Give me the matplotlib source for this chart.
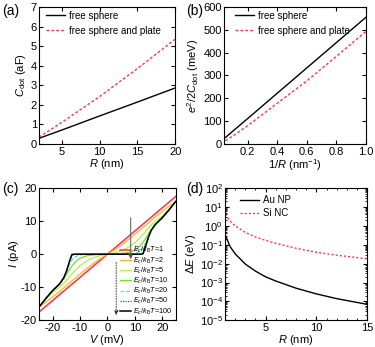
import numpy as np
import matplotlib
matplotlib.use('Agg')
import matplotlib.pyplot as plt
from matplotlib.ticker import MultipleLocator, LogLocator

plt.rcParams['font.family'] = ['Liberation Sans', 'DejaVu Sans']
plt.rcParams['mathtext.fontset'] = 'custom'
plt.rcParams['mathtext.rm'] = 'Liberation Sans'
plt.rcParams['mathtext.it'] = 'Liberation Sans:italic'
plt.rcParams['font.size'] = 8
plt.rcParams['axes.unicode_minus'] = False
plt.rcParams['xtick.direction'] = 'in'
plt.rcParams['ytick.direction'] = 'in'
plt.rcParams['xtick.top'] = True
plt.rcParams['ytick.right'] = True
plt.rcParams['xtick.major.size'] = 3
plt.rcParams['ytick.major.size'] = 3
plt.rcParams['xtick.minor.size'] = 1.5
plt.rcParams['ytick.minor.size'] = 1.5
plt.rcParams['xtick.major.pad'] = 2
plt.rcParams['ytick.major.pad'] = 1.5
plt.rcParams['axes.linewidth'] = 0.8

RED = '#ff3358'

# (a) capacitance vs radius
R_a = [2, 5, 10, 15, 20]
C_free = [0.29, 0.71, 1.43, 2.14, 2.86]
C_plate = [0.35, 1.1, 2.42, 3.85, 5.35]

# (b) charging energy vs 1/R
invR_b = [0.05, 0.1, 0.2, 0.4, 0.6, 0.8, 1.0]
E_free = [28, 56, 111, 222, 333, 444, 555]
E_plate = [14, 35, 80, 178, 276, 384, 493]

# (c) I-V curves
V_c = [-25, -22.5, -20, -17.5, -16, -15, -14, -13, -12, -11, -10, -7.5, -5, -2.5, 0,
       2.5, 5, 7.5, 10, 11, 12, 13, 14, 15, 16, 17.5, 20, 22.5, 25]
I_1 = [-17.5, -15.75, -14.0, -12.25, -11.2, -10.5, -9.8, -9.1, -8.4, -7.7, -7.0, -5.25, -3.5, -1.75, 0,
       1.75, 3.5, 5.25, 7.0, 7.7, 8.4, 9.1, 9.8, 10.5, 11.2, 12.25, 14.0, 15.75, 17.5]
I_2 = [-16.0, -14.5, -12.9, -11.3, -10.2, -9.5, -8.8, -8.1, -7.4, -6.7, -6.0, -4.3, -2.7, -1.3, 0,
       1.3, 2.7, 4.3, 6.0, 6.7, 7.4, 8.1, 8.8, 9.5, 10.2, 11.3, 12.9, 14.5, 16.0]
I_5 = [-16.0, -13.6, -11.5, -10.0, -8.8, -7.9, -7.0, -6.0, -5.1, -4.3, -3.5, -2.0, -1.0, -0.4, 0,
       0.4, 1.0, 2.0, 3.5, 4.3, 5.1, 6.0, 7.0, 7.9, 8.8, 10.0, 11.5, 13.6, 16.0]
I_10 = [-16.0, -13.4, -11.0, -9.1, -7.5, -6.2, -4.8, -3.6, -2.6, -1.8, -1.2, -0.5, -0.2, -0.05, 0,
        0.05, 0.2, 0.5, 1.2, 1.8, 2.6, 3.6, 4.8, 6.2, 7.5, 9.1, 11.0, 13.4, 16.0]
I_20 = [-16.0, -13.4, -11.0, -9.0, -7.3, -5.5, -3.5, -1.8, -0.9, -0.5, -0.2, -0.05, 0, 0, 0,
        0, 0, 0.05, 0.2, 0.5, 0.9, 1.8, 3.5, 5.5, 7.3, 9.0, 11.0, 13.4, 16.0]
I_50 = [-16.0, -13.4, -11.0, -9.0, -7.2, -5.2, -2.6, -0.4, -0.05, 0, 0, 0, 0, 0, 0,
        0, 0, 0, 0, 0, 0.05, 0.4, 2.6, 5.2, 7.2, 9.0, 11.0, 13.4, 16.0]
I_100 = [-16.0, -13.4, -11.0, -9.0, -7.2, -5.2, -2.5, -0.1, 0, 0, 0, 0, 0, 0, 0,
         0, 0, 0, 0, 0, 0, 0.1, 2.5, 5.2, 7.2, 9.0, 11.0, 13.4, 16.0]
ratios = [1, 2, 5, 10, 20, 50, 100]

# (d) level spacing vs radius
R_d = [1, 1.5, 2, 3, 4, 5, 6, 8, 10, 12, 15]
dE_au = [0.35, 0.08, 0.033, 0.0095, 0.004, 0.002, 0.0012, 0.0005, 0.00025, 0.00014, 0.00007]
dE_si = [4.0, 1.8, 1.0, 0.45, 0.26, 0.17, 0.12, 0.065, 0.04, 0.028, 0.018]

fig = plt.figure(figsize=(3.75, 3.47), dpi=100)
ax_a = fig.add_axes([0.104, 0.585, 0.363, 0.395])
ax_b = fig.add_axes([0.597, 0.585, 0.379, 0.395])
ax_c = fig.add_axes([0.104, 0.077, 0.365, 0.381])
ax_d = fig.add_axes([0.600, 0.077, 0.379, 0.381])

leg_kw = dict(frameon=False, fontsize=7, handlelength=2.0, borderaxespad=0,
              labelspacing=0.5, handletextpad=0.4)

# (a)
ax_a.plot(R_a, C_free, color='black', lw=1.0, label='free sphere')
ax_a.plot(R_a, C_plate, color=RED, lw=1.0, ls=(0, (2, 1.5)), label='free sphere and plate')
ax_a.set_xlim(2, 20)
ax_a.set_ylim(0, 7)
ax_a.xaxis.set_major_locator(MultipleLocator(5))
ax_a.yaxis.set_major_locator(MultipleLocator(1))
ax_a.set_xlabel('$R$ (nm)', labelpad=0.5)
ax_a.set_ylabel('$C_{\\rm dot}$ (aF)', labelpad=2)
ax_a.legend(loc='upper left', bbox_to_anchor=(0.02, 1.0), **leg_kw)

# (b)
ax_b.plot(invR_b, E_free, color='black', lw=1.0, label='free sphere')
ax_b.plot(invR_b, E_plate, color=RED, lw=1.0, ls=(0, (2, 1.5)), label='free sphere and plate')
ax_b.set_xlim(0.04, 1.0)
ax_b.set_ylim(0, 600)
ax_b.xaxis.set_major_locator(MultipleLocator(0.2))
ax_b.yaxis.set_major_locator(MultipleLocator(100))
ax_b.set_xlabel('1/$R$ (nm$^{-1}$)', labelpad=0.5)
ax_b.set_ylabel('$e^2$/2$C_{\\rm dot}$ (meV)', labelpad=2)
ax_b.legend(loc='upper left', bbox_to_anchor=(0.05, 1.0), **leg_kw)

# (c)
curves = [I_1, I_2, I_5, I_10, I_20, I_50, I_100]
colors = ['#ff3040', '#ffb030', '#b8f040', '#70e020', '#50e0d0', '#305878', 'black']
styles = ['-', '-', '-', '-', (0, (3, 1.5)), (0, (1, 1)), '-']
widths = [1.1, 0.9, 0.9, 0.9, 0.9, 0.9, 1.1]
for I, r, c, s, w in zip(curves, ratios, colors, styles, widths):
    ax_c.plot(V_c, I, color=c, ls=s, lw=w, label='$E_c/k_{\\rm B}T$=%d' % r)
arrow_x, arrow_top, arrow_bot = 8.5, 11, -1.5
ax_c.annotate('', xy=(arrow_x, arrow_bot), xytext=(arrow_x, arrow_top),
              arrowprops=dict(arrowstyle='-|>', color='#555555', lw=0.7,
                              mutation_scale=6, shrinkA=0, shrinkB=0))
dot_x, dot_top, dot_bot = 3.2, -2.5, -18.5
ax_c.annotate('', xy=(dot_x, dot_bot), xytext=(dot_x, dot_top),
              arrowprops=dict(arrowstyle='-|>', color='#333333', lw=0.7, ls=':',
                              mutation_scale=6, shrinkA=0, shrinkB=0))
ax_c.set_xlim(-25, 25)
ax_c.set_ylim(-20, 20)
ax_c.xaxis.set_major_locator(MultipleLocator(10))
ax_c.yaxis.set_major_locator(MultipleLocator(10))
ax_c.set_xlabel('$V$ (mV)', labelpad=0)
ax_c.set_ylabel('$I$ (pA)', labelpad=0)
ax_c.legend(loc='lower right', frameon=False, fontsize=5.2, handlelength=1.5,
            borderaxespad=0.1, labelspacing=0.0, handletextpad=0.3)

# (d)
ax_d.semilogy(R_d, dE_au, color='black', lw=1.0, label='Au NP')
ax_d.semilogy(R_d, dE_si, color=RED, lw=1.0, ls=(0, (1.5, 1.5)), label='Si NC')
ax_d.set_xlim(1, 15)
ax_d.set_ylim(1e-5, 1e2)
ax_d.xaxis.set_major_locator(MultipleLocator(5))
ax_d.xaxis.set_minor_locator(MultipleLocator(1))
ax_d.yaxis.set_major_locator(LogLocator(base=10, numticks=10))
ax_d.yaxis.set_minor_locator(LogLocator(base=10, subs=np.arange(2, 10), numticks=10))
ax_d.yaxis.set_minor_formatter(plt.NullFormatter())
ax_d.set_xlabel('$R$ (nm)', labelpad=0)
ax_d.set_ylabel('$\\Delta E$ (eV)', labelpad=1)
ax_d.legend(loc='upper left', bbox_to_anchor=(0.078, 0.975), frameon=False,
            fontsize=7, handlelength=2.0, borderaxespad=0, labelspacing=0.3,
            handletextpad=0.4)

for lab, x, y in [('(a)', 0.005, 0.968), ('(b)', 0.496, 0.968),
                  ('(c)', 0.005, 0.455), ('(d)', 0.496, 0.455)]:
    fig.text(x, y, lab, fontsize=10, va='center', ha='left')

fig.savefig('out.png', dpi=100)
